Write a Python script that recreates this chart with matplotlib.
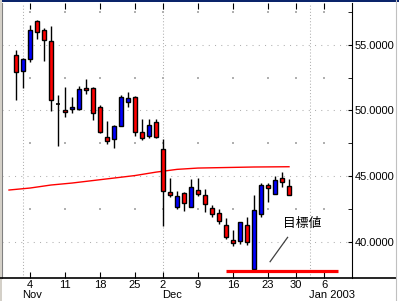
import pandas as pd
import matplotlib
matplotlib.use("Agg")
import matplotlib.pyplot as plt
from matplotlib.lines import Line2D
from matplotlib.patches import Rectangle

plt.rcParams['font.family'] = ['Liberation Sans', 'DejaVu Sans']

# trading days shown on the axis (weekends and US holidays skipped)
start_day = '2002-10-31'
end_day = '2003-01-09'
holidays = ['2002-11-28', '2002-12-25', '2003-01-01']

# daily candles from Oct 31 2002 to Dec 27 2002
opens = [54.19, 52.98, 53.89, 56.80, 56.10, 55.26, 50.49, 50.03, 50.09, 50.09,
         51.68, 51.68, 50.24, 47.96, 47.81, 48.84, 50.62, 51.02, 48.34, 48.08,
         49.10, 47.07, 43.78, 42.64, 43.70, 42.68, 43.93, 43.55, 42.56, 42.20,
         41.27, 40.15, 40.05, 41.31, 37.92, 42.15, 44.33, 43.62, 44.84, 44.28]
highs = [54.60, 54.00, 56.50, 56.88, 56.27, 56.40, 51.21, 51.81, 51.02, 51.86,
         52.39, 51.76, 50.41, 49.16, 48.87, 51.17, 51.43, 51.10, 49.37, 49.37,
         49.37, 47.83, 44.84, 43.85, 43.78, 44.79, 44.86, 44.03, 42.81, 42.48,
         41.80, 40.91, 41.52, 41.92, 43.57, 44.46, 44.51, 45.01, 45.34, 44.76]
lows = [50.79, 51.69, 53.65, 55.43, 53.78, 49.96, 47.32, 49.52, 49.83, 50.07,
        51.27, 49.24, 48.32, 47.45, 47.17, 48.84, 50.29, 48.08, 47.75, 47.88,
        47.93, 41.24, 43.40, 42.48, 42.38, 42.66, 43.52, 42.30, 41.92, 41.39,
        40.20, 39.71, 39.87, 39.77, 37.84, 41.92, 43.06, 43.62, 44.20, 43.55]
closes = [52.90, 53.89, 56.10, 55.94, 55.33, 50.77, 50.49, 49.86, 50.24, 51.61,
          51.53, 49.77, 48.34, 47.64, 48.82, 51.02, 50.92, 48.38, 47.88, 48.89,
          48.00, 43.85, 43.55, 43.47, 42.94, 44.16, 43.62, 42.86, 42.13, 41.59,
          40.35, 39.90, 41.49, 39.99, 42.43, 44.33, 44.08, 44.71, 44.54, 43.55]

# slow moving average, sampled along the candle index
ma_idx = [-1, 2, 5, 8, 11, 14, 17, 20, 23, 26, 30, 34, 39]
ma_val = [43.95, 44.10, 44.33, 44.48, 44.67, 44.86, 45.05, 45.31, 45.52,
          45.62, 45.66, 45.70, 45.72]

# target level line
target = 37.80
target_from = 30
target_to = 46
label_text = '目標値'

y_ticks = [40, 45, 50, 55]
y_minor = [42.5, 47.5, 52.5, 57.5]
week_days = ['2002-11-04', '2002-11-11', '2002-11-18', '2002-11-25', '2002-12-02',
             '2002-12-09', '2002-12-16', '2002-12-23', '2002-12-30', '2003-01-06']
month_starts = ['2002-11-01', '2002-12-02', '2003-01-02']
month_names = ['Nov', 'Dec', 'Jan 2003']

days = pd.bdate_range(start_day, end_day)
days = days[~days.isin(pd.to_datetime(holidays))]
pos = {d.strftime('%Y-%m-%d'): i for i, d in enumerate(days)}

fig = plt.figure(figsize=(3.99, 3.01), dpi=100)
ax = fig.add_axes([2 / 399, 23 / 301, 350 / 399, 275 / 301])
ax.set_xlim(-2, 48)
ax.set_ylim(37.26, 58.17)

# grid
for v in y_ticks:
    ax.axhline(v, color='#b0b0b0', lw=0.75, ls=(0, (1, 5)), zorder=0)
month_x = [pos[d] for d in month_starts]
for m in month_x:
    ax.axvline(m, color='#b0b0b0', lw=0.75, ls=(0, (1, 2)), zorder=0)
wx = [pos[d] for d in week_days]
for v in y_minor:
    ax.scatter(wx, [v] * len(wx), s=0.8, marker='s', color='#b0b0b0', lw=0, zorder=0)

# moving average
ax.plot(ma_idx, ma_val, color='red', lw=1, zorder=1)

# candles
for i in range(len(opens)):
    o, h, l, c = opens[i], highs[i], lows[i], closes[i]
    ax.vlines(i, l, h, color='black', lw=1, zorder=2)
    if o == c:
        ax.hlines(o, i - 0.34, i + 0.34, color='black', lw=1.2, zorder=3)
        continue
    col = 'blue' if c > o else 'red'
    ax.bar(i, abs(c - o), bottom=min(o, c), width=0.68, color=col,
           edgecolor='black', lw=1, zorder=3)

ax.hlines(target, target_from, target_to, color='red', lw=2.3, zorder=4)
ax.plot([36.3, 38.8], [38.5, 40.35], color='#404040', lw=0.9, zorder=4)
ax.text(40.9, 41.4, label_text, ha='center', va='center', fontsize=9.2,
        family=['Noto Sans CJK JP', 'DejaVu Sans'])

# axes styling
ax.spines['top'].set_visible(False)
ax.spines['left'].set_color('#808080')
ax.spines['right'].set_color('black')
ax.spines['bottom'].set_visible(False)
ax.yaxis.tick_right()
ax.set_yticks(y_ticks)
ax.set_yticklabels(['%.4f' % v for v in y_ticks], fontsize=8)
ax.set_yticks(y_minor, minor=True)
ax.tick_params(axis='y', which='both', direction='in', length=3, pad=2, color='black')
ax.set_xticks(wx)
ax.set_xticklabels([])
ax.tick_params(axis='x', direction='in', length=4, top=True, color='black')

tr = ax.get_xaxis_transform()
for d in week_days:
    ax.text(pos[d], -0.026, str(int(d[-2:])), transform=tr, ha='center',
            va='center', fontsize=8)
for m, name in zip(month_x, month_names):
    ax.text(m - 0.15, -0.060, name, transform=tr, ha='left', va='center',
            fontsize=8)

# window frame bits
fig.add_artist(Line2D([0, 396 / 399], [23 / 301, 23 / 301], color='black', lw=1.2))
fig.add_artist(Rectangle((0, 299 / 301), 1, 2 / 301, color='#0a246a', lw=0))
fig.add_artist(Rectangle((0, 0), 2 / 399, 1, color='#d4d0c8', lw=0))
fig.add_artist(Line2D([395.5 / 399, 395.5 / 399], [0, 1], color='#c0c0c0', lw=0.8))

fig.savefig('out.png', dpi=100)
